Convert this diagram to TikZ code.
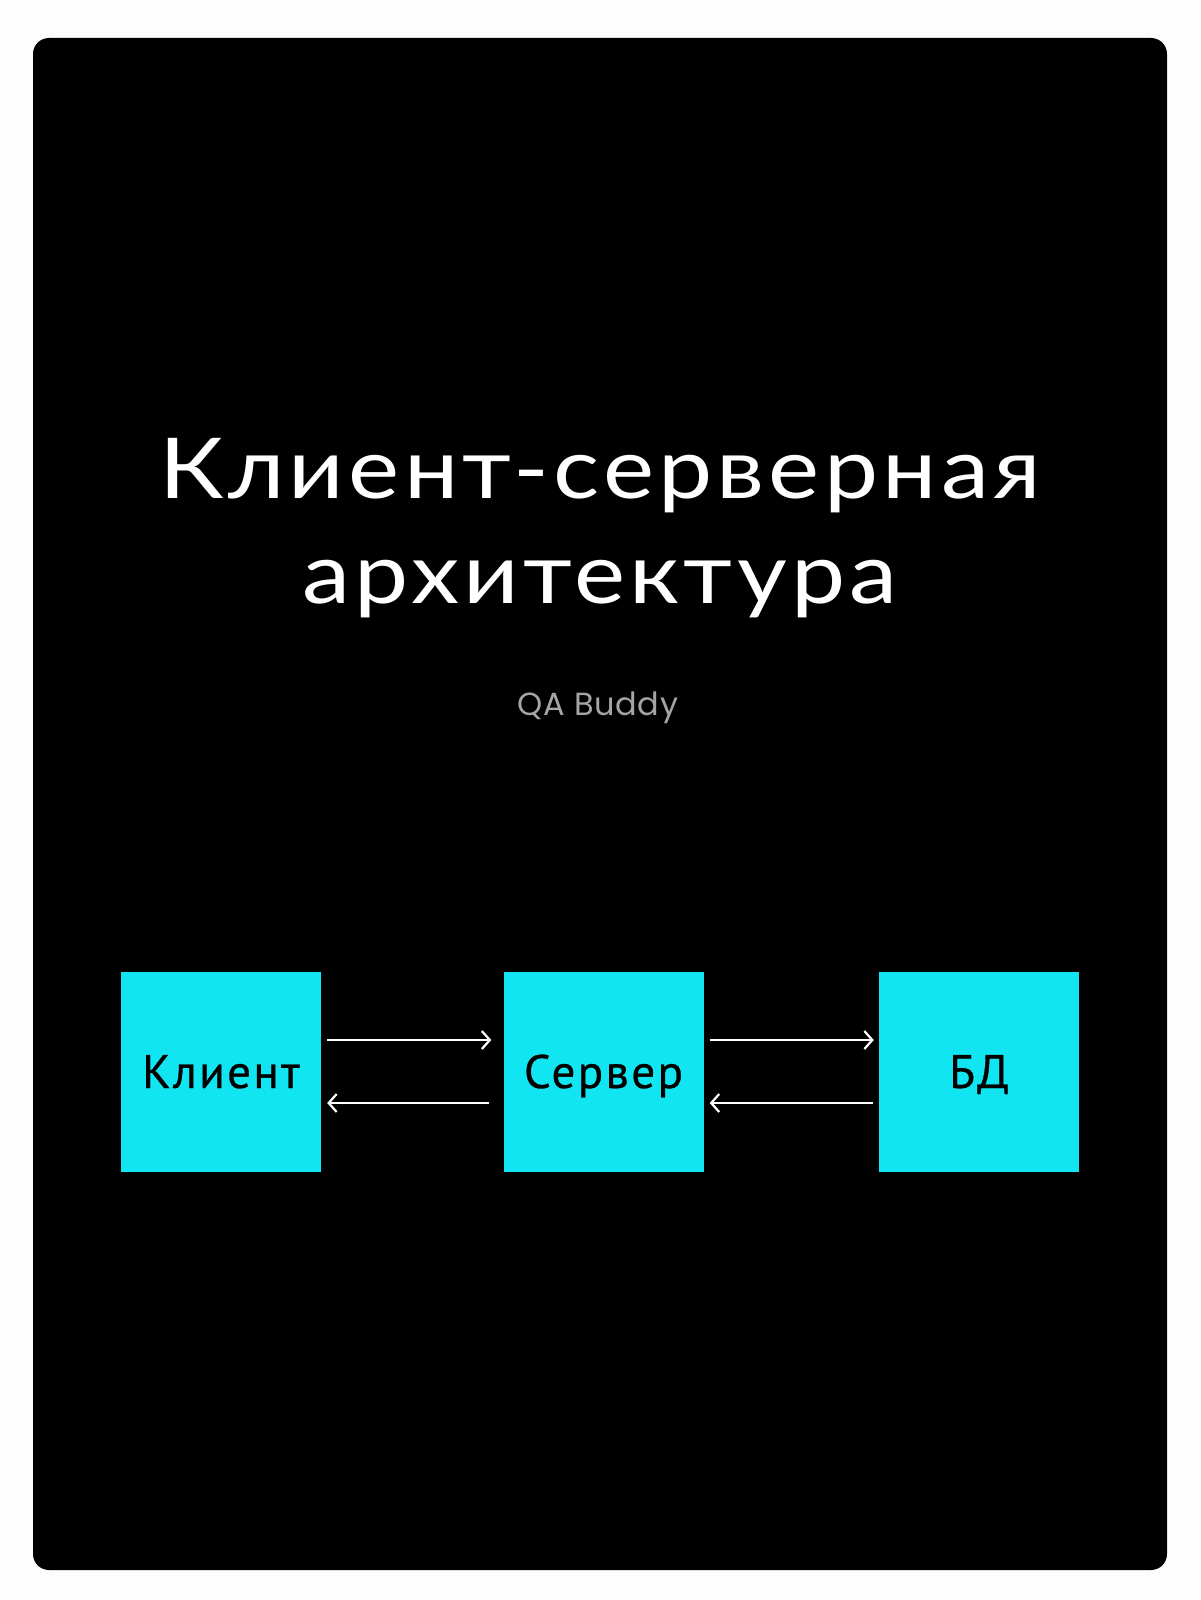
\documentclass[tikz,border=0pt]{standalone}
\usepackage{fontspec}
\setmainfont{Lato}
\newfontfamily\titlefont{Lato}[FakeStretch=1.15,LetterSpace=5]
\newfontfamily\qafont{Poppins}[LetterSpace=2]
\newfontfamily\boxfont{PT Sans}[LetterSpace=5,FakeBold=0.6]
\usetikzlibrary{arrows.meta}
\definecolor{bgwhite}{RGB}{253,253,253}
\definecolor{cyanbox}{RGB}{16,229,241}
\definecolor{qagray}{RGB}{165,165,165}
\tikzset{
  box/.style={fill=cyanbox, draw=none, minimum width=200pt, minimum height=200pt,
    inner sep=0pt, text=black, font=\boxfont\fontsize{47}{47}\selectfont,
    text height=33pt, text depth=0pt},
  arr/.style={draw=white, line width=2.2pt, -{Straight Barb[length=8pt,width=18pt,line width=2.2pt]}}
}
\begin{document}
\begin{tikzpicture}[x=1pt,y=-1pt]
\useasboundingbox (0,0) rectangle (1200,1600);
\fill[bgwhite] (0,0) rectangle (1200,1600);
\fill[black, rounded corners=16pt] (33,38) rectangle (1167,1570);
\node[anchor=base, align=center, text=white, inner sep=0pt,
  font=\titlefont\fontsize{84}{105}\selectfont] (title) at (600,603)
  {Клиент-серверная\\архитектура};
\node[anchor=base, text=qagray, inner sep=0pt,
  font=\qafont\fontsize{32}{32}\selectfont] (qa) at (598,715) {QA Buddy};
\node[box] (client) at (221,1071.5) {Клиент};
\node[box] (server) at (603.5,1071.5) {Сервер};
\node[box] (db) at (979,1071.5) {БД};
\draw[arr, shorten <=6pt, shorten >=12pt] ([yshift=31.5pt]client.east) -- ([yshift=31.5pt]server.west);
\draw[arr, shorten <=14pt, shorten >=6pt] ([yshift=-31.5pt]server.west) -- ([yshift=-31.5pt]client.east);
\draw[arr, shorten <=6pt, shorten >=5pt] ([yshift=31.5pt]server.east) -- ([yshift=31.5pt]db.west);
\draw[arr, shorten <=6pt, shorten >=6pt] ([yshift=-31.5pt]db.west) -- ([yshift=-31.5pt]server.east);
\end{tikzpicture}
\end{document}
